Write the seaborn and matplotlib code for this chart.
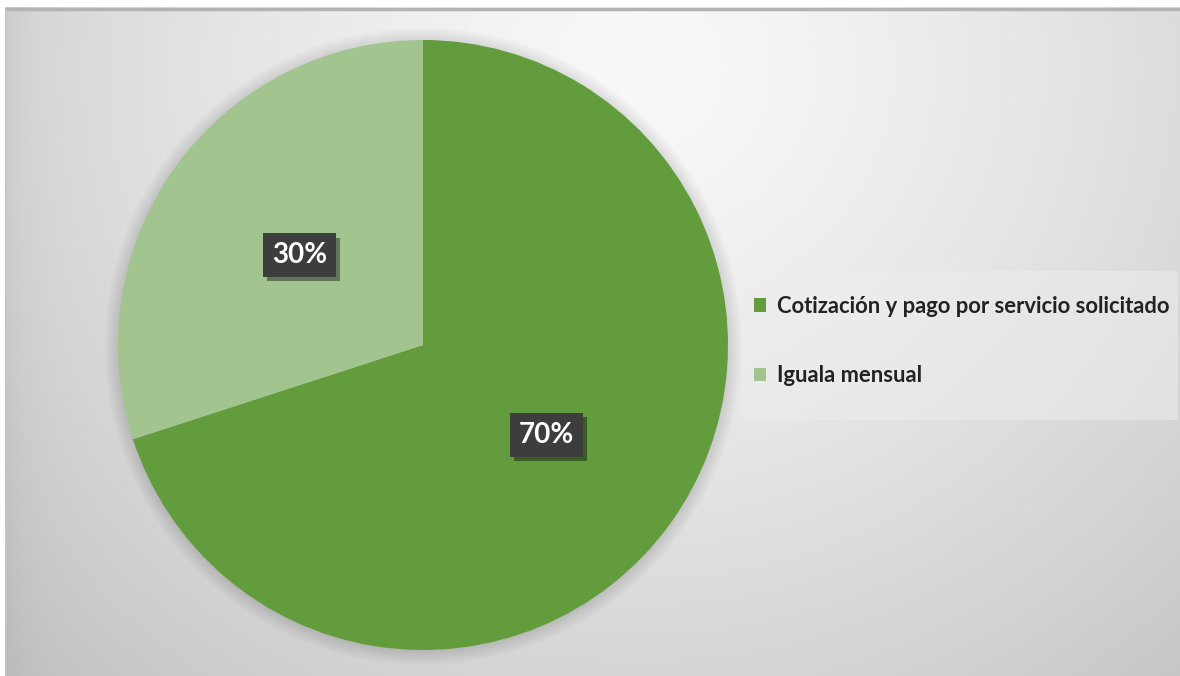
import numpy as np
import matplotlib
matplotlib.use("Agg")
import matplotlib.pyplot as plt
import matplotlib.patheffects as pe
from matplotlib.patches import Circle, Rectangle
from matplotlib.lines import Line2D
import seaborn as sns

# Payment scheme shares
categories = ["Cotización y pago por servicio solicitado", "Iguala mensual"]
shares = [70, 30]
slice_colors = ["#629c3d", "#a2c590"]

sns.set_theme(style="white")
plt.rcParams["font.family"] = ["Lato", "DejaVu Sans"]

W, H = 1180, 676
fig = plt.figure(figsize=(W / 100, H / 100), dpi=100)
fig.patch.set_facecolor("#c8c8c8")

# Chart area background: soft radial gradient, lightest toward the upper middle
bg = fig.add_axes([0, 0, 1, 1])
bg.set_axis_off()
yy, xx = np.mgrid[0:H, 0:W].astype(float) + 0.5
cx, cy = 640.0, 70.0
d = np.hypot(xx - cx, (yy - cy) * 1.05)
v = 0.975 - 0.20 * np.clip(d / 850.0, 0, 1.3) ** 1.3
# darker band along the left edge of the chart area
v -= 0.035 * np.exp(-(xx - 6) / 25.0)
v = np.clip(v, 0.74, 0.975)
img = np.dstack([v, v, v])
# white margin outside the chart area
img[:8, :, :] = 1.0
img[:, :6, :] = 1.0
bg.imshow(img, extent=(-1, W + 1, H + 1, -1), aspect="auto",
          interpolation="nearest")
bg.set_xlim(0, W)
bg.set_ylim(H, 0)
# frame edges of the chart area
bg.add_line(Line2D([6, W], [9, 9], color="#b3b3b3", lw=2.5))
bg.add_line(Line2D([6, 6], [9, H], color="#c4c4c4", lw=1.2))

# Legend backdrop panel
bg.add_patch(Rectangle((742, 271), W - 744, 149, facecolor="#eeeeee",
                       edgecolor="none", alpha=0.5))

# Pie axes: square, 610 px across
R = 305
pcx, pcy = 423, 345
ax = fig.add_axes([(pcx - R) / W, (H - pcy - R) / H, 2 * R / W, 2 * R / H])
ax.set_axis_off()

# soft shadow halo around the pie
for i in range(10):
    ax.add_patch(Circle((0, -0.004), 1.0 + 0.005 * i, facecolor="black",
                        edgecolor="none", alpha=0.012, zorder=0, clip_on=False))

wedges, texts, autotexts = ax.pie(
    shares,
    colors=slice_colors,
    startangle=90,
    counterclock=False,
    autopct="%1.0f%%",
    pctdistance=0.5,
    radius=1.0,
    wedgeprops=dict(edgecolor="none", linewidth=0),
    textprops=dict(color="white", fontsize=20, fontweight="bold"),
)
for wdg in wedges:
    wdg.set_zorder(2)
for t in autotexts:
    t.set_zorder(5)
    t.set_bbox(dict(boxstyle="square,pad=0.32", facecolor="#3d3d3d",
                    edgecolor="none"))
    t.get_bbox_patch().set_path_effects(
        [pe.SimplePatchShadow(offset=(3, -3), shadow_rgbFace="black", alpha=0.4),
         pe.Normal()])
ax.set_xlim(-1, 1)
ax.set_ylim(-1, 1)
ax.set_aspect("equal")

leg = fig.legend(
    wedges, categories,
    loc="upper left",
    bbox_to_anchor=(745 / W, 1 - 287 / H),
    frameon=False,
    prop=dict(weight="bold", size=15.8),
    labelcolor="#222222",
    handlelength=0.55,
    handleheight=0.55,
    handletextpad=0.5,
    labelspacing=2.2,
    borderaxespad=0,
)

fig.savefig("out.png", dpi=100)
